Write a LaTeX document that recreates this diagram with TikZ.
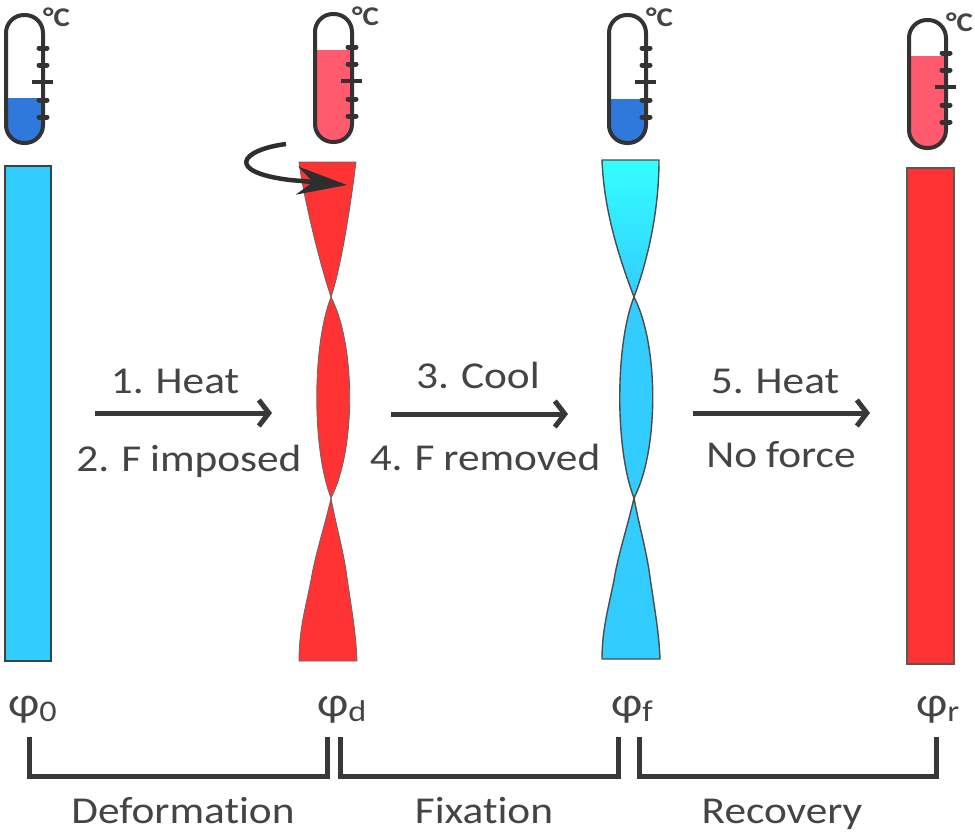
\documentclass[tikz,border=0pt]{standalone}
\usepackage{fontspec}
\setmainfont[FakeStretch=1.14,Ligatures=NoCommon,WordSpace=0.9]{Carlito}
\usetikzlibrary{arrows.meta}
\definecolor{inkgray}{HTML}{444444}
\definecolor{barblue}{HTML}{33CCFF}
\definecolor{barcyan}{HTML}{33FFFF}
\definecolor{barred}{HTML}{FF3333}
\definecolor{coldfluid}{HTML}{2F78DC}
\definecolor{hotfluid}{HTML}{FF5A6E}
\tikzset{
  label/.style={text=inkgray,anchor=base,inner sep=0pt,font=\fontsize{38}{40}\selectfont},
  unitlabel/.style={text=inkgray,anchor=base west,inner sep=0pt,font=\fontsize{27}{27}\selectfont\bfseries},
  philabel/.style={text=inkgray,anchor=base west,inner sep=0pt,font=\fontsize{42}{44}\selectfont},
  tube/.style={draw=black!80,line width=4pt,rounded corners=18pt},
  flowarrow/.style={draw=black!78,line width=5pt,-{Straight Barb[length=10pt,width=26pt]}},
  bracket/.style={draw=black!78,line width=5pt},
  redtwist/.style={fill=barred,draw=black!60,line width=0.8pt},
  bluetwist/.style={fill=barblue,draw=black!70,line width=1.4pt},
}
\newcommand{\sub}[1]{\raisebox{-5pt}{\fontsize{30}{30}\selectfont #1}}
\begin{document}
\begin{tikzpicture}[x=1pt,y=-1pt]
    \useasboundingbox (0,0) rectangle (975,836);
    % thermometers
    \foreach \tx/\ty/\lev/\col/\i in {6/15/83/coldfluid/a,315/14/36/hotfluid/b,609/15/84/coldfluid/c,909/20/36/hotfluid/d}{
        \begin{scope}[shift={(\tx,\ty)}]
            \fill[\col] (0,\lev) [rounded corners=18pt] -- (0,128) -- (37,128) [sharp corners] -- (37,\lev) -- cycle;
            \draw[tube] (0,0) rectangle (37,128);
            \foreach \t in {33,50,85,102}
                \draw[black!80,line width=5pt,line cap=round] (33,\t) -- (41,\t);
            \draw[black!80,line width=3.5pt] (26,67) -- (47,67);
            \node[unitlabel] (unit\i) at (37,11) {°C};
        \end{scope}
    }
    % straight bars
    \filldraw[fill=barblue,draw=black!75,line width=2pt] (5,166) rectangle (51,661);
    \filldraw[fill=barred,draw=black!65,line width=1.2pt] (907,168) rectangle (954,664);
    % twisted bars
    \draw[redtwist] (299,162) .. controls (303,195) and (320,265) .. (331,297) .. controls (342,265) and (352,195) .. (356,162) -- cycle;
    \draw[bluetwist,top color=barcyan,bottom color=barblue] (602,160) .. controls (604,215) and (622,265) .. (634,297) .. controls (646,265) and (659,215) .. (659,160) -- cycle;
    \foreach \tx/\by/\sty in {331/661/redtwist,634/659/bluetwist}{
        \begin{scope}[shift={(\tx,0)}]
            \draw[\sty] (0,297) .. controls (-19,345) and (-19,450) .. (0,498) .. controls (25,450) and (25,345) .. (0,297) -- cycle;
            \draw[\sty] (0,498) .. controls (-6,525) and (-16,555) .. (-20,580) .. controls (-26,610) and (-32,630) .. (-32,\by) -- (26,\by) .. controls (25,630) and (19,600) .. (15,570) .. controls (11,545) and (5,525) .. (0,498) -- cycle;
        \end{scope}
    }
    % twist arrow
    \coordinate (twa) at (286,144);
    \coordinate (twb) at (347,185);
    \draw[draw=black!82,line width=4.5pt,-{Stealth[length=50pt,width=28pt,inset=16pt]}] (twa) .. controls (240,150) and (225,172) .. (290,180) -- (twb);
    % process arrows
    \coordinate (h1) at (95,413);
    \coordinate (h2) at (272,413);
    \coordinate (c1) at (391,414);
    \coordinate (c2) at (568,414);
    \coordinate (r1) at (693,413);
    \coordinate (r2) at (870,413);
    \draw[flowarrow] (h1) -- (h2);
    \draw[flowarrow] (c1) -- (c2);
    \draw[flowarrow] (r1) -- (r2);
    \node[label] (heata) at (175,393) {1. Heat};
    \node[label] (force) at (189,471) {2. F imposed};
    \node[label] (cool) at (478,388) {3. Cool};
    \node[label] (unforce) at (485,470) {4. F removed};
    \node[label] (heatb) at (775,393) {5. Heat};
    \node[label] (noforce) at (781,467) {No force};
    % angles
    \node[philabel] (phi0) at (8,716) {φ\sub{0}};
    \node[philabel] (phid) at (317,716) {φ\sub{d}};
    \node[philabel] (phif) at (611,716) {φ\sub{f}};
    \node[philabel] (phir) at (916,716) {φ\sub{r}};
    % brackets
    \coordinate (ba) at (29,737);
    \coordinate (bb) at (327,737);
    \coordinate (bc) at (340,737);
    \coordinate (bd) at (618,737);
    \coordinate (be) at (639,737);
    \coordinate (bf) at (936,737);
    \draw[bracket] (ba) -- ++(0,39) -| (bb);
    \draw[bracket] (bc) -- ++(0,39) -| (bd);
    \draw[bracket] (be) -- ++(0,39) -| (bf);
    \node[label] (deform) at (183,823) {Deformation};
    \node[label] (fix) at (484,823) {Fixation};
    \node[label] (recover) at (782,823) {Recovery};
\end{tikzpicture}
\end{document}
